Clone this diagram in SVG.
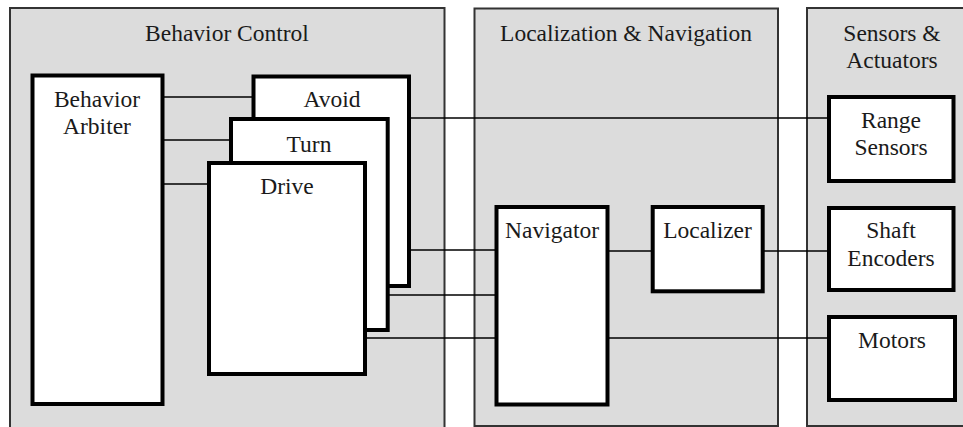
<svg xmlns="http://www.w3.org/2000/svg" width="963" height="427" viewBox="0 0 963 427">
<style>
.panel{fill:#dcdcdc;stroke:#333;stroke-width:2}
.box{fill:#fff;stroke:#000;stroke-width:4}
.t{font-family:"Liberation Serif","Times New Roman",serif;font-size:23.5px;fill:#1a1a1a;text-anchor:middle}
.c{stroke:#000;stroke-width:1.6;fill:none}
</style>
<rect width="963" height="427" fill="#fff"/>
<g id="panel-behavior">
<rect class="panel" x="10" y="8" width="434.5" height="425"/>
<text class="t" x="227" y="41">Behavior Control</text>
</g>
<g id="panel-locnav">
<rect class="panel" x="474.5" y="8.5" width="303.5" height="417.5"/>
<text class="t" x="626" y="41">Localization &amp; Navigation</text>
</g>
<g id="panel-sensors">
<rect class="panel" x="807" y="8" width="170" height="418"/>
<text class="t" x="892" y="41">Sensors &amp;</text>
<text class="t" x="892" y="68">Actuators</text>
</g>
<g id="connectors">
<line class="c" x1="163" y1="97" x2="253" y2="97"/>
<line class="c" x1="163" y1="140" x2="231" y2="140"/>
<line class="c" x1="163" y1="184" x2="209" y2="184"/>
<line class="c" x1="409" y1="118" x2="829" y2="118"/>
<line class="c" x1="409" y1="250" x2="496" y2="250"/>
<line class="c" x1="388" y1="295" x2="496" y2="295"/>
<line class="c" x1="365" y1="338" x2="496" y2="338"/>
<line class="c" x1="608" y1="251" x2="653" y2="251"/>
<line class="c" x1="763" y1="251" x2="829" y2="251"/>
<line class="c" x1="608" y1="338" x2="829" y2="338"/>
</g>
<g id="arbiter">
<rect class="box" x="32.5" y="75.5" width="130" height="328.5"/>
<text class="t" x="97" y="107">Behavior</text>
<text class="t" x="97" y="134">Arbiter</text>
</g>
<g id="avoid">
<rect class="box" x="253.5" y="76.5" width="155.5" height="209.5"/>
<text class="t" x="332" y="107">Avoid</text>
</g>
<g id="turn">
<rect class="box" x="231" y="119" width="156.7" height="211"/>
<text class="t" x="309" y="152">Turn</text>
</g>
<g id="drive">
<rect class="box" x="209" y="163" width="156" height="211"/>
<text class="t" x="287" y="194">Drive</text>
</g>
<g id="navigator">
<rect class="box" x="496.5" y="207" width="111" height="197.5"/>
<text class="t" x="552" y="238">Navigator</text>
</g>
<g id="localizer">
<rect class="box" x="652.7" y="207" width="110" height="84.3"/>
<text class="t" x="707.5" y="238">Localizer</text>
</g>
<g id="range-sensors">
<rect class="box" x="829" y="97" width="124.5" height="84"/>
<text class="t" x="891" y="128">Range</text>
<text class="t" x="891" y="155">Sensors</text>
</g>
<g id="shaft-encoders">
<rect class="box" x="829" y="208" width="124.5" height="82"/>
<text class="t" x="891" y="238">Shaft</text>
<text class="t" x="891" y="266">Encoders</text>
</g>
<g id="motors">
<rect class="box" x="829" y="317" width="126" height="83"/>
<text class="t" x="892" y="348">Motors</text>
</g>
</svg>
